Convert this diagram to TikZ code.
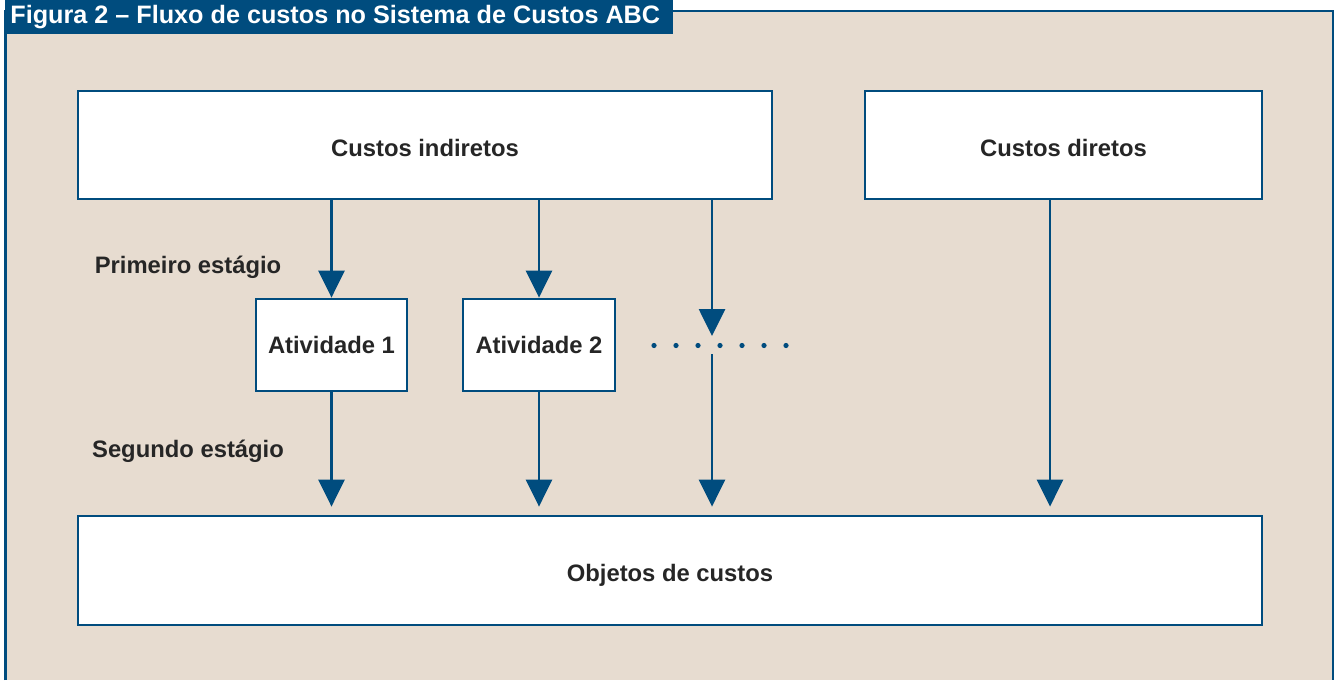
\documentclass[tikz,border=0pt]{standalone}
\usepackage{fontspec}
\setmainfont{Liberation Sans}
\usetikzlibrary{arrows.meta}
\definecolor{navy}{HTML}{004C7E}
\definecolor{beige}{HTML}{E7DCD0}
\tikzset{
  boxnode/.style={draw=navy, fill=white, line width=1.4pt, rectangle, inner sep=0pt,
    font=\fontsize{11.9}{14}\selectfont\bfseries, text=black!85, text depth=0pt},
  lbl/.style={font=\fontsize{11.9}{14}\selectfont\bfseries, text=black!85, inner sep=0pt},
  arr/.style={draw=navy, line width=1.4pt, -{Triangle[width=13pt,length=13.5pt]}},
  dotmark/.style={fill=navy, circle, inner sep=0pt, minimum size=2.6pt}
}
\begin{document}
\begin{tikzpicture}[x=0.5pt,y=-0.5pt]
\useasboundingbox (0,0) rectangle (1337,680);
\fill[white] (0,0) rectangle (1337,680);
\fill[beige] (5.5,11) rectangle (1333,680);
\draw[navy, line width=1.4pt] (5.5,680) -- (5.5,11) -- (1333,11) -- (1333,680);
\fill[navy] (4.5,0) rectangle (673,34);
\node[anchor=west, text=white, font=\fontsize{12.6}{15}\selectfont\bfseries, inner sep=0pt] (title) at (10,17) {Figura 2 – Fluxo de custos no Sistema de Custos ABC};

\node[boxnode, text height=11.5pt, minimum width=347pt, minimum height=54pt] (ci) at (425,145) {Custos indiretos};
\node[boxnode, text height=11.5pt, minimum width=198.5pt, minimum height=54pt] (cd) at (1063.5,145) {Custos diretos};
\node[boxnode, text height=8.5pt, minimum width=75.5pt, minimum height=46pt] (a1) at (331.5,345) {Atividade 1};
\node[boxnode, text height=8.5pt, minimum width=76pt, minimum height=46pt] (a2) at (539,345) {Atividade 2};
\node[boxnode, text height=11pt, minimum width=592pt, minimum height=54.5pt] (ob) at (670,570.5) {Objetos de custos};

\node[lbl] (p1) at (188,267) {Primeiro estágio};
\node[lbl] (p2) at (188,451) {Segundo estágio};

\coordinate (d1) at (712,336);
\coordinate (d2) at (712,354);
\coordinate (cx) at (1050,200);

\draw[arr] (ci.south -| a1) -- (a1.north);
\draw[arr] (ci.south -| a2) -- (a2.north);
\draw[arr] (ci.south -| d1) -- (d1);
\draw[arr, shorten >=4pt] (a1.south) -- (ob.north -| a1);
\draw[arr, shorten >=4pt] (a2.south) -- (ob.north -| a2);
\draw[arr, shorten >=4pt] (d2) -- (ob.north -| d2);
\draw[arr, shorten >=4pt] (cd.south -| cx) -- (ob.north -| cx);

\foreach \i in {0,...,6} {
  \node[dotmark] (dot\i) at (654+22*\i,345.5) {};
}
\end{tikzpicture}
\end{document}
